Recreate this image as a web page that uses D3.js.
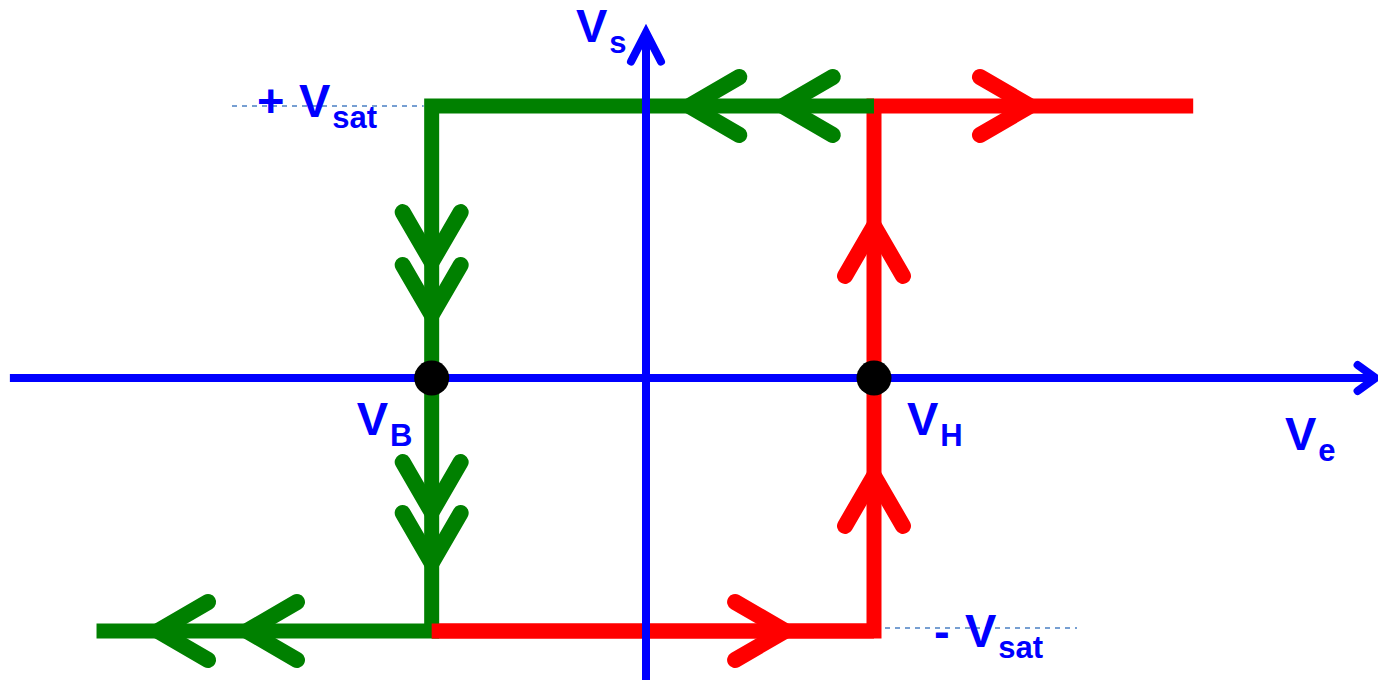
<!DOCTYPE html>
<html>
<head>
<meta charset="utf-8">
<script src="https://cdn.jsdelivr.net/npm/d3@7"></script>
<style>
  body { margin: 0; background: #fff; }
  svg { display: block; }
</style>
</head>
<body>
<svg width="1378" height="680"></svg>
<script>
// thresholds (Ve) and saturation levels (Vs), in units of VH and +Vsat
const thresholds = { vB: -0.94, vH: 1.0 }
const saturation = { high: 1.0, low: -0.93 }
const veRange = [-2.41, 2.40]          // ends of the drawn loop branches
const veAxisExtent = [-2.79, 3.2]
const vsAxisExtent = [-1.2, 1.27]

// arrow tips along each branch
const greenTopArrows = [0.19, 0.60]
const greenBottomArrows = [-2.14, -1.75]
const greenDownArrows = [0.426, 0.232, -0.493, -0.68]
const redUpArrows = [0.559, -0.36]
const redBottomArrows = [0.61]
const redTopArrows = [1.684]

const labels = ['V', 's', 'sat', 'B', 'H', 'e']

const svg = d3.select('svg')
const width = +svg.attr('width')
const height = +svg.attr('height')

const xScale = d3.scaleLinear().domain([0, 1]).range([646, 874])
const yScale = d3.scaleLinear().domain([0, 1]).range([378, 106])

const GREEN = '#008000'
const RED = '#ff0000'
const BLUE = '#0000ff'
const lw = 15

const line = d3.line().x(d => xScale(d[0])).y(d => yScale(d[1]))

// chevron: tip at (x,y), pointing in direction dir
const chevron = (x, y, dir) => {
	const along = 50, perp = 29
	const dx = dir === 'left' ? 1 : dir === 'right' ? -1 : 0
	const dy = dir === 'up' ? 1 : dir === 'down' ? -1 : 0
	const bx = x + dx * along, by = y + dy * along
	const px = dy !== 0 ? perp : 0, py = dx !== 0 ? perp : 0
	return `M${bx - px},${by - py}L${x},${y}L${bx + px},${by + py}`
}

// dashed guide lines at ±Vsat
svg.append('line')
	.attr('x1', 232).attr('x2', xScale(thresholds.vB) - 8)
	.attr('y1', yScale(saturation.high)).attr('y2', yScale(saturation.high))
	.attr('stroke', '#4a80c4').attr('stroke-width', 1.6)
	.attr('stroke-dasharray', '5,5')

svg.append('line')
	.attr('x1', xScale(thresholds.vH) + 11).attr('x2', 1077)
	.attr('y1', yScale(saturation.low) - 3).attr('y2', yScale(saturation.low) - 3)
	.attr('stroke', '#4a80c4').attr('stroke-width', 1.6)
	.attr('stroke-dasharray', '5,5')

// red branch (increasing Ve)
const redPts = [
	[thresholds.vB, saturation.low],
	[thresholds.vH, saturation.low],
	[thresholds.vH, saturation.high],
	[veRange[1], saturation.high]
]
svg.append('path')
	.attr('d', line(redPts))
	.attr('fill', 'none')
	.attr('stroke', RED)
	.attr('stroke-width', lw)
	.attr('stroke-linejoin', 'miter')

// green branch (decreasing Ve)
const greenPts = [
	[thresholds.vH, saturation.high],
	[thresholds.vB, saturation.high],
	[thresholds.vB, saturation.low],
	[veRange[0], saturation.low]
]
svg.append('path')
	.attr('d', line(greenPts))
	.attr('fill', 'none')
	.attr('stroke', GREEN)
	.attr('stroke-width', lw)
	.attr('stroke-linejoin', 'miter')

// red piece over green corner at the bottom
svg.append('path')
	.attr('d', line(redPts.slice(0, 2)))
	.attr('fill', 'none')
	.attr('stroke', RED)
	.attr('stroke-width', lw)

const arrows = svg.append('g')
	.attr('fill', 'none')
	.attr('stroke-width', 16)
	.attr('stroke-linecap', 'round')
	.attr('stroke-linejoin', 'miter')

arrows.selectAll('.gt').data(greenTopArrows).enter().append('path')
	.attr('d', d => chevron(xScale(d), yScale(saturation.high), 'left'))
	.attr('stroke', GREEN)
arrows.selectAll('.gb').data(greenBottomArrows).enter().append('path')
	.attr('d', d => chevron(xScale(d), yScale(saturation.low), 'left'))
	.attr('stroke', GREEN)
arrows.selectAll('.gd').data(greenDownArrows).enter().append('path')
	.attr('d', d => chevron(xScale(thresholds.vB), yScale(d), 'down'))
	.attr('stroke', GREEN)
arrows.selectAll('.ru').data(redUpArrows).enter().append('path')
	.attr('d', d => chevron(xScale(thresholds.vH), yScale(d), 'up'))
	.attr('stroke', RED)
arrows.selectAll('.rb').data(redBottomArrows).enter().append('path')
	.attr('d', d => chevron(xScale(d), yScale(saturation.low), 'right'))
	.attr('stroke', RED)
arrows.selectAll('.rt').data(redTopArrows).enter().append('path')
	.attr('d', d => chevron(xScale(d), yScale(saturation.high), 'right'))
	.attr('stroke', RED)

// axes
const axes = svg.append('g')
	.attr('stroke', BLUE)
	.attr('stroke-width', 8)
	.attr('fill', 'none')
	.attr('stroke-linecap', 'round')

const xEnd = xScale(veAxisExtent[1])
axes.append('line')
	.attr('x1', xScale(veAxisExtent[0])).attr('x2', xEnd - 2)
	.attr('y1', yScale(0)).attr('y2', yScale(0))
	.attr('stroke-linecap', 'butt')
axes.append('path')
	.attr('d', `M${xEnd - 18},${yScale(0) - 13}L${xEnd},${yScale(0)}L${xEnd - 18},${yScale(0) + 13}`)

const yEnd = yScale(vsAxisExtent[1])
axes.append('line')
	.attr('x1', xScale(0)).attr('x2', xScale(0))
	.attr('y1', yScale(vsAxisExtent[0])).attr('y2', yEnd + 2)
	.attr('stroke-linecap', 'butt')
axes.append('path')
	.attr('d', `M${xScale(0) - 15},${yEnd + 29}L${xScale(0)},${yEnd}L${xScale(0) + 15},${yEnd + 29}`)

// threshold dots
svg.selectAll('.dot')
	.data([thresholds.vB, thresholds.vH])
	.enter().append('circle')
	.attr('cx', d => xScale(d))
	.attr('cy', yScale(0))
	.attr('r', 17.5)
	.attr('fill', '#000')

// labels
const font = '"Liberation Sans", Arial, sans-serif'
const label = (x, y, main, sub, prefix) => {
	if (prefix) {
		svg.append('text')
			.attr('x', prefix.x).attr('y', y)
			.attr('font-family', font).attr('font-weight', 'bold')
			.attr('font-size', 47).attr('fill', BLUE)
			.text(prefix.t)
	}
	const t = svg.append('text')
		.attr('x', x).attr('y', y)
		.attr('font-family', font).attr('font-weight', 'bold')
		.attr('font-size', 47).attr('fill', BLUE)
	t.append('tspan').text(main)
	t.append('tspan').attr('dx', 2).attr('dy', 11).attr('font-size', 31).text(sub)
}

label(xScale(0) - 70, 42, labels[0], labels[1])
label(299, yScale(saturation.high) + 11, labels[0], labels[2], { x: 257, t: '+' })
label(965, yScale(saturation.low) + 16, labels[0], labels[2], { x: 934, t: '-' })
label(xScale(thresholds.vB) - 75, yScale(0) + 57, labels[0], labels[3])
label(xScale(thresholds.vH) + 33, yScale(0) + 57, labels[0], labels[4])
label(1285, yScale(0) + 72, labels[0], labels[5])
</script>
</body>
</html>
